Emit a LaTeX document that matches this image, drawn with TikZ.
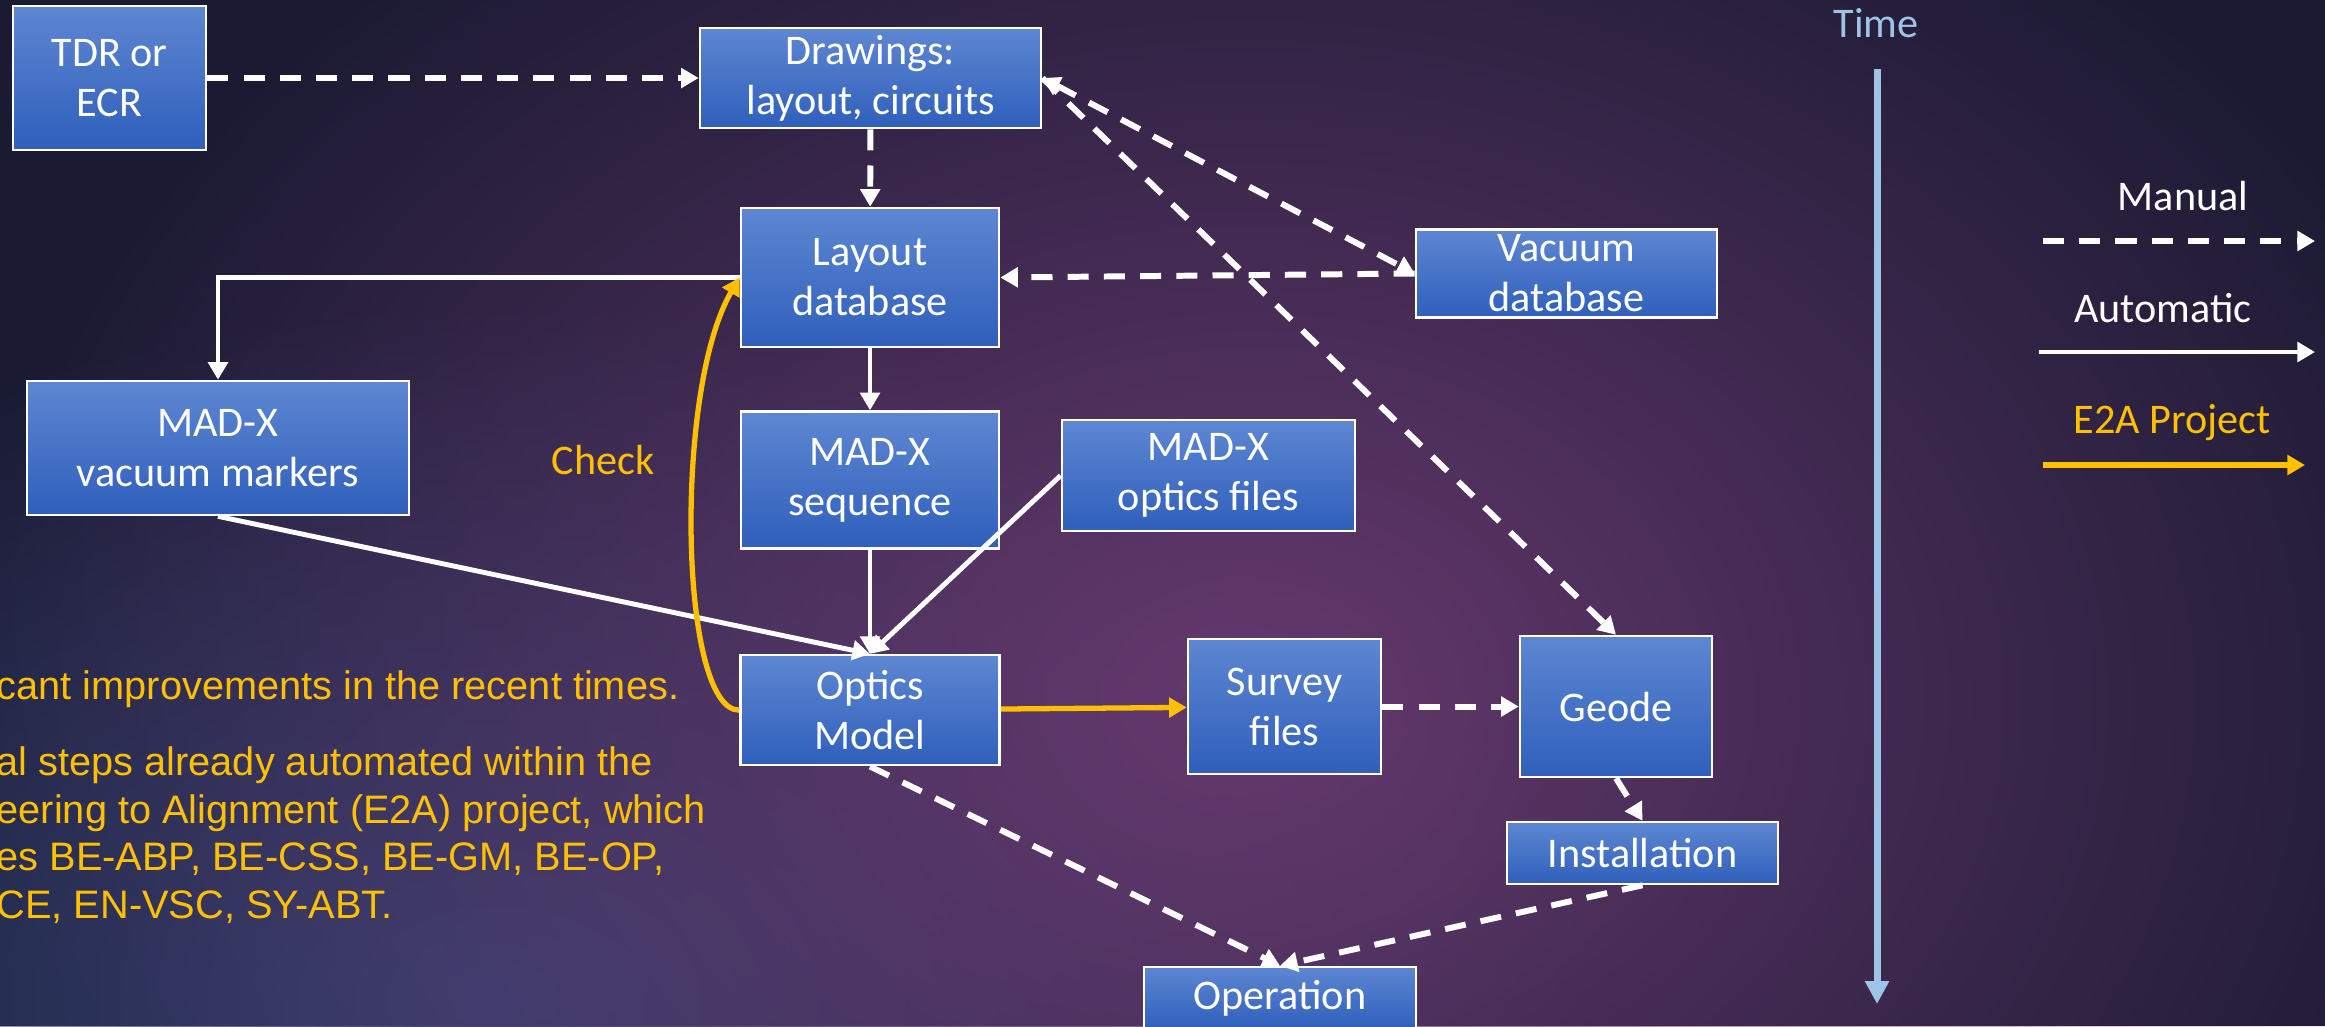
\documentclass[tikz,border=0pt]{standalone}
\usepackage{fontspec}
\setmainfont{Carlito}
\newfontfamily\arialfont{Liberation Sans}
\usepackage{xcolor}
\usetikzlibrary{arrows.meta,positioning,fadings}

\definecolor{boxtop}{HTML}{5E87D2}
\definecolor{boxbot}{HTML}{2F5FBC}
\definecolor{gold}{HTML}{FFC000}
\definecolor{timeblue}{HTML}{9DC3E6}
\definecolor{bgdark}{HTML}{1A1A32}
\definecolor{bgpurple}{HTML}{66396E}
\definecolor{bgblue}{HTML}{30406F}

\tikzfading[name=glow, inner color=transparent!0, outer color=transparent!100]

\begin{document}
\begin{tikzpicture}[
  x=0.01cm, y=-0.01cm,
  >={Triangle[length=5pt,width=5.5pt]},
  box/.style = {draw=white, line width=0.7pt, top color=boxtop, bottom color=boxbot,
    text=white, font=\fontsize{12}{14.2}\selectfont, align=center, inner sep=0pt},
  lbl/.style = {font=\fontsize{12}{14.2}\selectfont, anchor=base, inner sep=0pt},
  man/.style = {->, white, line width=1.7pt, dash pattern=on 6pt off 4.3pt},
  aut/.style = {->, white, line width=1.4pt},
  proj/.style = {->, gold, line width=1.5pt},
]
% background
\useasboundingbox (0,0) rectangle (2325,1026);
\clip (0,0) rectangle (2325,1026);
\fill[bgdark] (0,0) rectangle (2325,1026);
\fill[bgblue, path fading=glow] (500,1000) ellipse [x radius=11cm, y radius=7cm];
\fill[bgpurple, path fading=glow] (1250,700) ellipse [x radius=13cm, y radius=10cm];

% boxes
\node[box, minimum width=1.93cm, minimum height=1.44cm] (tdr) at (109.5,78) {TDR or\\ECR};
\node[box, minimum width=3.41cm, minimum height=1.00cm] (drw) at (870.5,78) {Drawings:\\layout, circuits};
\node[box, minimum width=2.58cm, minimum height=1.39cm] (lay) at (870,277.5) {Layout\\database};
\node[box, minimum width=3.01cm, minimum height=0.88cm] (vac) at (1566.5,273.5) {Vacuum\\database};
\node[box, minimum width=3.82cm, minimum height=1.34cm] (mrk) at (218,448) {MAD-X\\vacuum markers};
\node[box, minimum width=2.58cm, minimum height=1.37cm, below=0.62cm of lay] (seq) {MAD-X\\sequence};
\node[box, minimum width=2.93cm, minimum height=1.11cm] (opf) at (1208.5,475.5) {MAD-X\\optics files};
\node[box, minimum width=2.59cm, minimum height=1.10cm, below=1.04cm of seq] (opt) {Optics\\Model};
\node[box, minimum width=1.93cm, minimum height=1.35cm] (srv) at (1284.5,706.5) {Survey\\files};
\node[box, minimum width=1.92cm, minimum height=1.41cm] (geo) at (1616,706.5) {Geode};
\node[box, minimum width=2.71cm, minimum height=0.62cm] (ins) at (1642.5,853) {Installation};
\node[box, minimum width=2.72cm, minimum height=0.62cm] (ope) at (1280,998) {Operation};

% manual steps
\draw[man] (tdr.east) -- (drw.west);
\draw[man] (drw) -- (lay);
\draw[man, <->] (drw.east) -- (vac.west);
\draw[man] (vac.west) -- (lay.east);
\draw[man] (drw.east) -- (geo.north);
\draw[man] (srv) -- (geo);
\draw[man] (geo.south) -- (ins.north);
\draw[man] (ins.south) -- (ope.north);
\draw[man] (opt.south) -- (ope.north);

% automatic steps
\draw[aut] (lay.west) -| (mrk.north);
\draw[aut] (lay) -- (seq);
\draw[aut] (seq) -- (opt);
\draw[aut] (mrk.south) -- (opt.north);
\draw[aut] (opf.west) -- (opt.north);

% E2A
\draw[proj] (opt.west) .. controls +(-60,0) and +(-66,112) .. (lay.west);
\node[lbl, text=gold] (chk) at (603,474) {Check};
\draw[proj] (opt) -- (srv);

% time axis
\node[lbl, text=timeblue] (time) at (1876,37) {Time};
\coordinate (t0) at (1877,69);
\coordinate (t1) at (1877,1004);
\draw[timeblue, line width=2pt, -{Triangle[length=6.5pt,width=6.5pt]}] (t0) -- (t1);

% legend
\node[lbl, text=white] (lman) at (2183,210) {Manual};
\coordinate (m0) at (2043,241);
\coordinate (m1) at (2315,241);
\draw[man] (m0) -- (m1);
\node[lbl, text=white] (laut) at (2163,322) {Automatic};
\coordinate (a0) at (2039,352);
\coordinate (a1) at (2315,352);
\draw[aut] (a0) -- (a1);
\node[lbl, text=gold] (lproj) at (2172,433) {E2A Project};
\coordinate (p0) at (2043,465);
\coordinate (p1) at (2305,465);
\draw[proj] (p0) -- (p1);

% notes
\foreach \yy/\txt [count=\i] in {699/{cant improvements in the recent times.},
    775.5/{al steps already automated within the},
    823/{eering to Alignment (E2A) project, which},
    870/{es BE-ABP, BE-CSS, BE-GM, BE-OP,},
    918/{CE, EN-VSC, SY-ABT.}}
  \node[anchor=base west, inner sep=0pt, text=gold,
    font=\arialfont\fontsize{11.3}{13.5}\selectfont] (note\i) at (-4,\yy) {\txt};
\end{tikzpicture}
\end{document}
